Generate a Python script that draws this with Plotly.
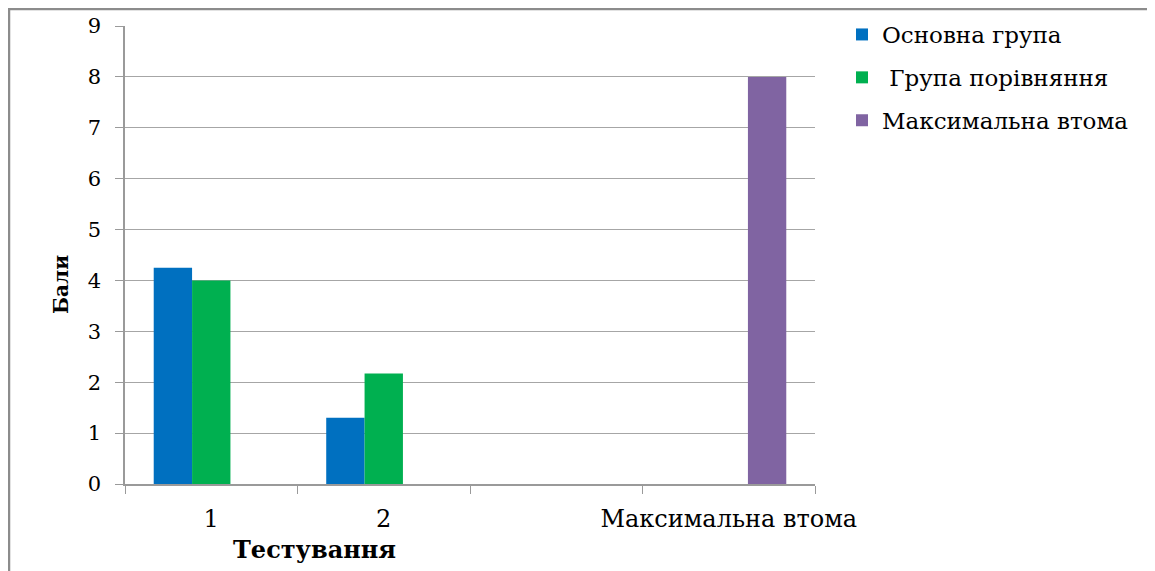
import plotly.graph_objects as go

categories = ["1", "2", " ", "Максимальна втома"]
series_names = ["Основна група", " Група порівняння", "Максимальна втома"]
main_group = [4.25, 1.3, None, None]
comparison_group = [4.0, 2.17, None, None]
max_fatigue = [None, None, None, 8]
colors = ["#0070C0", "#00B050", "#8064A2"]

FONT = "'DejaVu Serif', 'Liberation Serif', serif"

fig = go.Figure()
for i, (name, vals) in enumerate(zip(series_names, [main_group, comparison_group, max_fatigue])):
    fig.add_trace(go.Bar(x=categories, y=vals, name=name, marker_color=colors[i],
                         marker_line_width=0, legendgroup=f"g{i}"))

# page has an 8px body margin; work in screen coords and convert
OFF = 8
W, H = 1155 - OFF, 571 - OFF
L, T = 125 - OFF, 26 - OFF
R = W - (815 - OFF)
B = H - (484 - OFF)
pw, ph = W - L - R, H - T - B

def px_x(x):
    return (x - OFF - L) / pw

def px_y(y):
    return (H - B - (y - OFF)) / ph

fig.update_layout(
    width=W, height=H,
    margin=dict(l=L, r=R, t=T, b=B, autoexpand=False),
    paper_bgcolor="white", plot_bgcolor="white",
    barmode="group", bargap=0.333, bargroupgap=0,
    font=dict(family=FONT, size=21, color="black"),
    showlegend=True,
    legend=dict(x=px_x(842), y=px_y(13), xanchor="left", yanchor="top",
                font=dict(family=FONT, size=23, color="black"),
                tracegroupgap=10, bgcolor="rgba(0,0,0,0)"),
    xaxis=dict(type="category", categoryorder="array", categoryarray=categories,
               tickson="boundaries", ticks="outside", ticklen=8, tickcolor="#9a9a9a",
               tickangle=0, automargin=False, ticklabelstandoff=12,
               showline=True, linecolor="#9a9a9a", linewidth=1.5, showgrid=False,
               tickfont=dict(family=FONT, size=24, color="black")),
    yaxis=dict(range=[0, 9], dtick=1, ticks="outside", ticklen=8, tickcolor="#9a9a9a",
               automargin=False, ticklabelstandoff=10,
               showline=True, linecolor="#9a9a9a", linewidth=1.5,
               showgrid=True, gridcolor="#a6a6a6", gridwidth=1, zeroline=False,
               tickfont=dict(family=FONT, size=21, color="black")),
    annotations=[
        dict(text="<b>Тестування</b>", xref="paper", yref="paper",
             x=px_x(314), y=px_y(549), xanchor="center", yanchor="middle", showarrow=False,
             font=dict(family=FONT, size=24, color="black")),
        dict(text="<b>Бали</b>", xref="paper", yref="paper", textangle=-90,
             x=px_x(61), y=px_y(285), xanchor="center", yanchor="middle", showarrow=False,
             font=dict(family=FONT, size=20, color="black")),
    ],
    shapes=[
        dict(type="rect", xref="paper", yref="paper",
             x0=px_x(9), x1=px_x(1150), y0=px_y(590), y1=px_y(9),
             line=dict(color="#8c8c8c", width=2.5), fillcolor="rgba(0,0,0,0)", layer="below"),
    ],
)

fig.write_html("out.html")
